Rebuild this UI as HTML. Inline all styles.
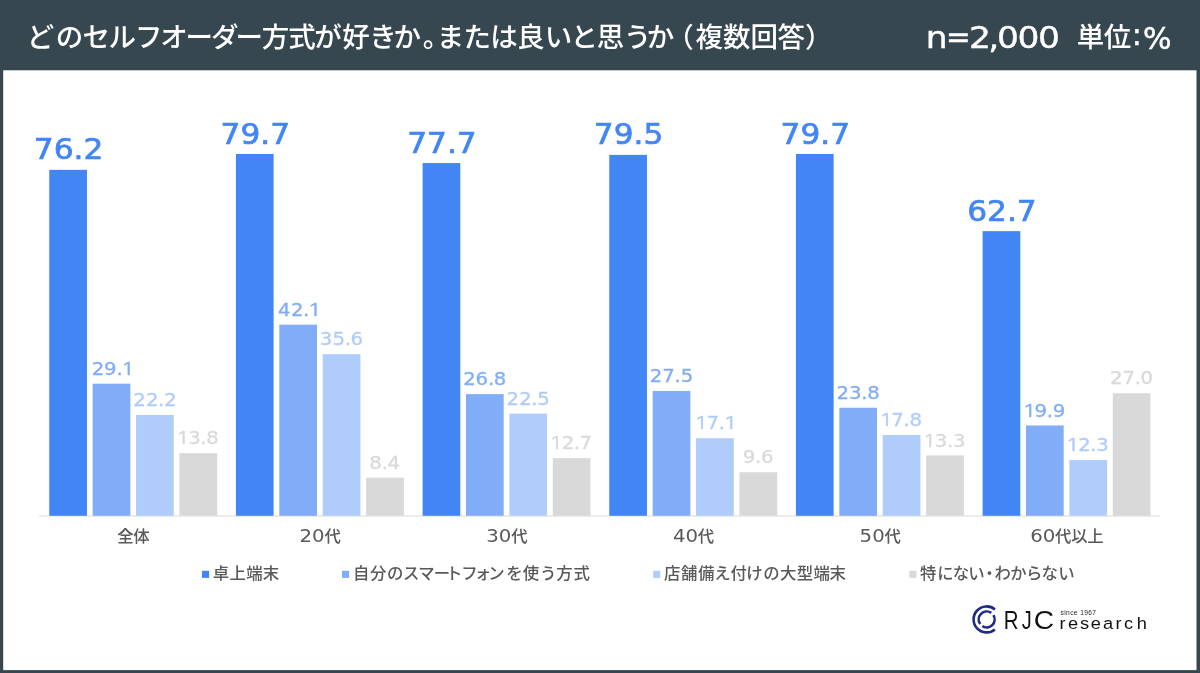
<!DOCTYPE html>
<html lang="ja"><head><meta charset="utf-8"><title>どのセルフオーダー方式が好きか</title>
<style>
html,body{margin:0;padding:0;background:#37474f;}
body{width:1200px;height:673px;overflow:hidden;}
svg{display:block}
text{font-family:"Liberation Sans","Noto Sans CJK JP",sans-serif;}
.jp{font-family:"Liberation Sans","Noto Sans CJK JP",sans-serif;}
.num{font-family:"DejaVu Sans","Liberation Sans",sans-serif;}
.one{font-family:"NanumGothic","Liberation Sans",sans-serif;}
.lat{font-family:"Liberation Sans",sans-serif;}
</style></head><body>
<svg width="1200" height="673" viewBox="0 0 1200 673">
<rect x="0" y="0" width="1200" height="673" fill="#37474f"/>
<rect x="3.2" y="70.3" width="1193.3" height="599.8" fill="#ffffff"/>
<text class="jp" x="26.77 55.71 82.49 108.54 134.95 160.18 185.50 210.89 235.60 261.86 288.32 314.37 342.25 369.14 393.61 422.73 436.86 463.54 490.24 517.02 544.86 570.61 596.85 623.81 646.81 666.19 695.50 723.10 750.50 777.45 804.91" y="47.0" font-size="27.5" font-weight="500" fill="#fff">どのセルフオーダー方式が好きか。または良いと思うか（複数回答）</text>
<text class="num" transform="scale(1.15,1)" x="805.04 822.54 842.60 859.46 866.91 884.78 902.65" y="48.5 47.3 48.5 48.5 48.5 48.5 48.5" font-size="30" fill="#fff" stroke="#fff" stroke-width="0.4">n<tspan textLength="21.42" lengthAdjust="spacingAndGlyphs">=</tspan>2,000</text>
<text class="jp" x="1076.65 1103.70 1131.74 1143.00" y="47.4 47.4 45.3 48.6" font-size="27.5" font-weight="500" fill="#fff">単位<tspan stroke="#fff" stroke-width="0.4" class="num" font-weight="400" font-size="30">:</tspan><tspan stroke="#fff" stroke-width="0.5" class="num" font-weight="400" font-size="30">%</tspan></text>
<rect x="39.3" y="515.5" width="1121" height="1" fill="#d9d9d9"/>
<rect x="49.25" y="169.85" width="37.7" height="345.95" fill="#4285f4"/>
<text class="num" transform="translate(68.60,159.45) scale(1.07,1)" font-size="29.2" text-anchor="middle" fill="#4285f4" stroke="#4285f4" stroke-width="0.7">76.2</text>
<rect x="92.65" y="383.69" width="37.7" height="132.11" fill="#81adf8"/>
<text class="num" transform="scale(1.145,1)" x="80.04 90.91 101.68 105.28" y="374.89" font-size="17.2" fill="#81adf8" stroke="#81adf8" stroke-width="0.3">29.<tspan class="one" font-size="17.6" textLength="13.04" lengthAdjust="spacingAndGlyphs">1</tspan></text>
<rect x="136.05" y="415.01" width="37.7" height="100.79" fill="#b0ccfa"/>
<text class="num" transform="scale(1.145,1)" x="116.35 127.49 137.99 143.38" y="406.21" font-size="17.2" fill="#b0ccfa" stroke="#b0ccfa" stroke-width="0.3">22.2</text>
<rect x="179.45" y="453.15" width="37.7" height="62.65" fill="#d9d9d9"/>
<text class="num" transform="scale(1.145,1)" x="153.19 164.32 174.95 180.08" y="444.35" font-size="17.2" fill="#d9d9d9" stroke="#d9d9d9" stroke-width="0.3"><tspan class="one" font-size="17.6" textLength="13.04" lengthAdjust="spacingAndGlyphs">1</tspan>3.8</text>
<text class="jp" y="542.4" font-size="16.4" font-weight="500" fill="#595959"><tspan x="117.20 133.30">全体</tspan></text>
<rect x="235.92" y="153.96" width="37.7" height="361.84" fill="#4285f4"/>
<text class="num" transform="translate(255.27,143.56) scale(1.07,1)" font-size="29.2" text-anchor="middle" fill="#4285f4" stroke="#4285f4" stroke-width="0.7">79.7</text>
<rect x="279.32" y="324.67" width="37.7" height="191.13" fill="#81adf8"/>
<text class="num" transform="scale(1.145,1)" x="242.81 254.21 264.71 268.31" y="315.87" font-size="17.2" fill="#81adf8" stroke="#81adf8" stroke-width="0.3">42.<tspan class="one" font-size="17.6" textLength="13.04" lengthAdjust="spacingAndGlyphs">1</tspan></text>
<rect x="322.72" y="354.18" width="37.7" height="161.62" fill="#b0ccfa"/>
<text class="num" transform="scale(1.145,1)" x="279.25 290.38 301.02 306.15" y="345.38" font-size="17.2" fill="#b0ccfa" stroke="#b0ccfa" stroke-width="0.3">35.6</text>
<rect x="366.12" y="477.66" width="37.7" height="38.14" fill="#d9d9d9"/>
<text class="num" transform="scale(1.145,1)" x="322.59 333.36 338.48" y="468.86" font-size="17.2" fill="#d9d9d9" stroke="#d9d9d9" stroke-width="0.3">8.4</text>
<text class="jp" y="542.4" font-size="16.4" font-weight="500" fill="#595959"><tspan x="299.57" class="num" font-size="17.2" font-weight="400" textLength="25.10" lengthAdjust="spacingAndGlyphs">20</tspan><tspan x="324.47">代</tspan></text>
<rect x="422.59" y="163.04" width="37.7" height="352.76" fill="#4285f4"/>
<text class="num" transform="translate(441.94,152.64) scale(1.07,1)" font-size="29.2" text-anchor="middle" fill="#4285f4" stroke="#4285f4" stroke-width="0.7">77.7</text>
<rect x="465.99" y="394.13" width="37.7" height="121.67" fill="#81adf8"/>
<text class="num" transform="scale(1.145,1)" x="404.51 415.38 426.15 431.27" y="385.33" font-size="17.2" fill="#81adf8" stroke="#81adf8" stroke-width="0.3">26.8</text>
<rect x="509.39" y="413.65" width="37.7" height="102.15" fill="#b0ccfa"/>
<text class="num" transform="scale(1.145,1)" x="442.41 453.55 464.05 469.31" y="404.85" font-size="17.2" fill="#b0ccfa" stroke="#b0ccfa" stroke-width="0.3">22.5</text>
<rect x="552.79" y="458.14" width="37.7" height="57.66" fill="#d9d9d9"/>
<text class="num" transform="scale(1.145,1)" x="479.25 490.51 501.02 506.14" y="449.34" font-size="17.2" fill="#d9d9d9" stroke="#d9d9d9" stroke-width="0.3"><tspan class="one" font-size="17.6" textLength="13.04" lengthAdjust="spacingAndGlyphs">1</tspan>2.7</text>
<text class="jp" y="542.4" font-size="16.4" font-weight="500" fill="#595959"><tspan x="486.24" class="num" font-size="17.2" font-weight="400" textLength="25.10" lengthAdjust="spacingAndGlyphs">30</tspan><tspan x="511.14">代</tspan></text>
<rect x="609.26" y="154.87" width="37.7" height="360.93" fill="#4285f4"/>
<text class="num" transform="translate(628.61,144.47) scale(1.07,1)" font-size="29.2" text-anchor="middle" fill="#4285f4" stroke="#4285f4" stroke-width="0.7">79.5</text>
<rect x="652.66" y="390.95" width="37.7" height="124.85" fill="#81adf8"/>
<text class="num" transform="scale(1.145,1)" x="567.54 578.41 589.18 594.44" y="382.15" font-size="17.2" fill="#81adf8" stroke="#81adf8" stroke-width="0.3">27.5</text>
<rect x="696.06" y="438.17" width="37.7" height="77.63" fill="#b0ccfa"/>
<text class="num" transform="scale(1.145,1)" x="605.97 616.97 627.74 631.34" y="429.37" font-size="17.2" fill="#b0ccfa" stroke="#b0ccfa" stroke-width="0.3"><tspan class="one" font-size="17.6" textLength="13.04" lengthAdjust="spacingAndGlyphs">1</tspan>7.<tspan class="one" font-size="17.6" textLength="13.04" lengthAdjust="spacingAndGlyphs">1</tspan></text>
<rect x="739.46" y="472.22" width="37.7" height="43.58" fill="#d9d9d9"/>
<text class="num" transform="scale(1.145,1)" x="648.65 659.42 664.54" y="463.42" font-size="17.2" fill="#d9d9d9" stroke="#d9d9d9" stroke-width="0.3">9.6</text>
<text class="jp" y="542.4" font-size="16.4" font-weight="500" fill="#595959"><tspan x="672.91" class="num" font-size="17.2" font-weight="400" textLength="25.10" lengthAdjust="spacingAndGlyphs">40</tspan><tspan x="697.81">代</tspan></text>
<rect x="795.93" y="153.96" width="37.7" height="361.84" fill="#4285f4"/>
<text class="num" transform="translate(815.28,143.56) scale(1.07,1)" font-size="29.2" text-anchor="middle" fill="#4285f4" stroke="#4285f4" stroke-width="0.7">79.7</text>
<rect x="839.33" y="407.75" width="37.7" height="108.05" fill="#81adf8"/>
<text class="num" transform="scale(1.145,1)" x="730.57 741.57 752.21 757.33" y="398.95" font-size="17.2" fill="#81adf8" stroke="#81adf8" stroke-width="0.3">23.8</text>
<rect x="882.73" y="434.99" width="37.7" height="80.81" fill="#b0ccfa"/>
<text class="num" transform="scale(1.145,1)" x="767.40 778.40 789.17 794.30" y="426.19" font-size="17.2" fill="#b0ccfa" stroke="#b0ccfa" stroke-width="0.3"><tspan class="one" font-size="17.6" textLength="13.04" lengthAdjust="spacingAndGlyphs">1</tspan>7.8</text>
<rect x="926.13" y="455.42" width="37.7" height="60.38" fill="#d9d9d9"/>
<text class="num" transform="scale(1.145,1)" x="805.31 816.44 827.08 832.34" y="446.62" font-size="17.2" fill="#d9d9d9" stroke="#d9d9d9" stroke-width="0.3"><tspan class="one" font-size="17.6" textLength="13.04" lengthAdjust="spacingAndGlyphs">1</tspan>3.3</text>
<text class="jp" y="542.4" font-size="16.4" font-weight="500" fill="#595959"><tspan x="859.58" class="num" font-size="17.2" font-weight="400" textLength="25.10" lengthAdjust="spacingAndGlyphs">50</tspan><tspan x="884.48">代</tspan></text>
<rect x="982.60" y="231.14" width="37.7" height="284.66" fill="#4285f4"/>
<text class="num" transform="translate(1001.95,220.74) scale(1.07,1)" font-size="29.2" text-anchor="middle" fill="#4285f4" stroke="#4285f4" stroke-width="0.7">62.7</text>
<rect x="1026.00" y="425.45" width="37.7" height="90.35" fill="#81adf8"/>
<text class="num" transform="scale(1.145,1)" x="892.53 903.53 914.30 919.43" y="416.65" font-size="17.2" fill="#81adf8" stroke="#81adf8" stroke-width="0.3"><tspan class="one" font-size="17.6" textLength="13.04" lengthAdjust="spacingAndGlyphs">1</tspan>9.9</text>
<rect x="1069.40" y="459.96" width="37.7" height="55.84" fill="#b0ccfa"/>
<text class="num" transform="scale(1.145,1)" x="930.43 941.70 952.20 957.46" y="451.16" font-size="17.2" fill="#b0ccfa" stroke="#b0ccfa" stroke-width="0.3"><tspan class="one" font-size="17.6" textLength="13.04" lengthAdjust="spacingAndGlyphs">1</tspan>2.3</text>
<rect x="1112.80" y="393.22" width="37.7" height="122.58" fill="#d9d9d9"/>
<text class="num" transform="scale(1.145,1)" x="969.41 980.28 991.05 996.17" y="384.42" font-size="17.2" fill="#d9d9d9" stroke="#d9d9d9" stroke-width="0.3">27.0</text>
<text class="jp" y="542.4" font-size="16.4" font-weight="500" fill="#595959"><tspan x="1030.15" class="num" font-size="17.2" font-weight="400" textLength="25.10" lengthAdjust="spacingAndGlyphs">60</tspan><tspan x="1055.05 1071.15 1087.25">代以上</tspan></text>
<rect x="202" y="570.8" width="7.1" height="7.1" fill="#4285f4"/>
<text class="jp" x="212.68 229.55 246.30 262.68" y="579.4" font-size="16.4" font-weight="500" fill="#595959">卓上端末</text>
<rect x="342" y="570.8" width="7.1" height="7.1" fill="#81adf8"/>
<text class="jp" x="352.92 369.93 386.93 403.05 418.29 433.68 446.02 461.18 474.67 488.16 506.18 522.67 540.05 556.30 573.42" y="579.4" font-size="16.4" font-weight="500" fill="#595959">自分のスマートフォンを使う方式</text>
<rect x="653.2" y="570.8" width="7.1" height="7.1" fill="#b0ccfa"/>
<text class="jp" x="664.05 681.05 697.93 714.17 730.55 746.17 763.18 779.92 796.80 813.55 829.55" y="579.4" font-size="16.4" font-weight="500" fill="#595959">店舗備え付けの大型端末</text>
<rect x="909.4" y="570.8" width="7.1" height="7.1" fill="#d9d9d9"/>
<text class="jp" x="920.05 937.30 952.79 968.29 981.17 994.43 1010.17 1025.92 1041.54 1058.29" y="579.4" font-size="16.4" font-weight="500" fill="#595959">特にない・わからない</text>
<g fill="none" stroke="#1f2a86" stroke-width="2.6">
<path d="M 994.9 609.4 A 13 13 0 1 0 994.9 629.4"/>
<path d="M 980.2 624.1 A 8 8 0 0 1 991.3 612.9"/>
<path d="M 993.4 615.1 A 8 8 0 0 1 982.3 626.1"/>
</g>
<text class="lat" x="1003.81 1021.83 1033.66" y="629.0" font-size="25.6" fill="#111"><tspan textLength="14.79" lengthAdjust="spacingAndGlyphs">R</tspan><tspan textLength="9.98" lengthAdjust="spacingAndGlyphs">J</tspan><tspan textLength="20.34" lengthAdjust="spacingAndGlyphs">C</tspan></text>
<text class="lat" transform="scale(1.12,1)" x="945.92 953.58 964.21 973.82 984.74 995.92 1003.54 1015.06" y="629.0" font-size="16.3" fill="#111">research</text>
<text class="lat" x="1060.5" y="614.7" font-size="6.6" fill="#222" textLength="35.5" lengthAdjust="spacing">since 1967</text>
</svg></body></html>
